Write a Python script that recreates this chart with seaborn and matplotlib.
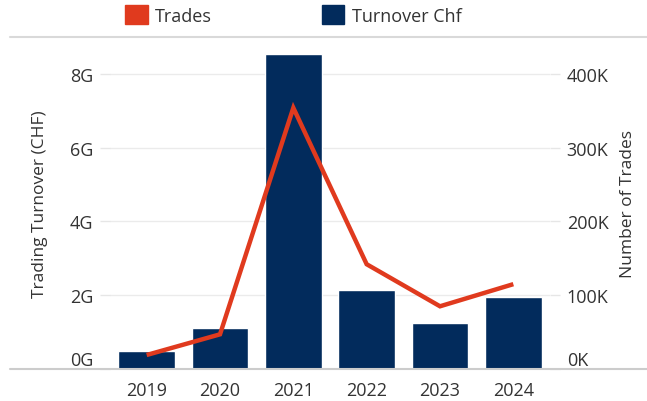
import matplotlib
matplotlib.use("Agg")
import matplotlib.pyplot as plt
from matplotlib.lines import Line2D
from matplotlib.patches import Patch
import numpy as np
import seaborn as sns

years = ["2019", "2020", "2021", "2022", "2023", "2024"]
turnover = [0.49e9, 1.11e9, 8.54e9, 2.14e9, 1.25e9, 1.95e9]
trades = [19000, 47000, 354000, 142000, 85000, 115000]
left_ticks = [0, 2e9, 4e9, 6e9, 8e9]
left_labels = ["0G", "2G", "4G", "6G", "8G"]
right_ticks = [0, 100000, 200000, 300000, 400000]
right_labels = ["0K", "100K", "200K", "300K", "400K"]

navy = "#022b5c"
red = "#e03a1e"
grid_c = "#ebebeb"
text_c = "#333333"

sns.set_theme(style="white")
plt.rcParams["font.family"] = ["Open Sans", "DejaVu Sans"]
plt.rcParams["font.size"] = 13

fig = plt.figure(figsize=(6.47, 4.02), dpi=100)
ax = fig.add_axes([110 / 647, 1 - 370 / 402, 440 / 647, 332 / 402])

sns.barplot(x=years, y=turnover, ax=ax, color=navy, width=0.77, saturation=1)
ax.set_xlim(-0.5, 5.5)
ax.set_ylim(0, 9.0e9)
ax.set_yticks(left_ticks)
ax.set_yticklabels(left_labels)
ax.set_ylabel("Trading Turnover (CHF)", color=text_c, fontsize=12.5, labelpad=16)
ax.set_xlabel("")
ax.set_axisbelow(True)
for t in left_ticks[1:]:
    ax.axhline(t, color=grid_c, lw=1, zorder=0)

ax.set_xticks(np.arange(len(years)))
ax.set_xticklabels(years)
ax.set_xticks(np.arange(len(years) + 1) - 0.5, minor=True)
ax.tick_params(axis="x", which="major", length=0, pad=9, labelcolor=text_c, labelsize=13)
ax.tick_params(axis="x", which="minor", length=9, color="#e6e6e6", width=1, direction="out")
ax.tick_params(axis="y", length=7, color="#e6e6e6", width=1, left=True, pad=5,
               labelcolor=text_c, labelsize=13)
for s in ax.spines.values():
    s.set_visible(False)

ax2 = ax.twinx()
sns.lineplot(x=np.arange(len(years)), y=trades, ax=ax2, color=red, lw=3.2,
             solid_joinstyle="miter", solid_capstyle="butt")
ax2.set_ylim(0, 450000)
ax2.set_yticks(right_ticks)
ax2.set_yticklabels(right_labels)
ax2.set_ylabel("Number of Trades", color=text_c, fontsize=12.5, labelpad=8)
ax2.tick_params(axis="y", length=7, color="#e6e6e6", width=1, right=True, pad=5,
                labelcolor=text_c, labelsize=13)
for s in ax2.spines.values():
    s.set_visible(False)

# zero labels sit just above the baseline
ax.yaxis.get_major_ticks()[0].label1.set_va("bottom")
ax2.yaxis.get_major_ticks()[0].label2.set_va("bottom")

# frame lines across the whole figure
fig.add_artist(Line2D([10 / 647, 1], [1 - 38 / 402] * 2, color="#d9d9d9", lw=1.5))
fig.add_artist(Line2D([10 / 647, 1], [1 - 370 / 402] * 2, color="#cccccc", lw=1.5))

handles = [Patch(color=red), Patch(color=navy)]
fig.legend(handles, ["Trades", "Turnover Chf"], loc="center left",
           bbox_to_anchor=(125 / 647, 1 - 16 / 402), ncol=2, frameon=False,
           borderpad=0, borderaxespad=0, handlelength=1.25, handleheight=1.25,
           handletextpad=0.4, columnspacing=6.1, fontsize=13, labelcolor=text_c)

fig.savefig("out.png", dpi=100)
